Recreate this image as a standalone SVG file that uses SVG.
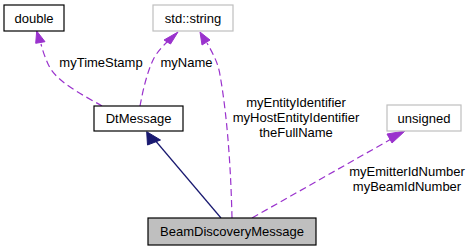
<svg xmlns="http://www.w3.org/2000/svg" width="472" height="251" viewBox="0 0 472 251">
<style>
text{font-family:"Liberation Sans",Arial,sans-serif;font-size:13px;fill:#000;text-anchor:middle}
.box{fill:#fff;stroke:#000;stroke-width:1.2}
.gbox{fill:#fff;stroke:#bfbfbf;stroke-width:1.2}
.cur{fill:#bfbfbf;stroke:#000;stroke-width:1.2}
.dash{fill:none;stroke:#9a32cd;stroke-width:1.2;stroke-dasharray:7,4}
.solid{fill:none;stroke:#191970;stroke-width:1.2}
.ph{fill:#9a32cd;stroke:#9a32cd}
.nh{fill:#191970;stroke:#191970}
</style>
<rect width="472" height="251" fill="#fff"/>
<g id="connectors">
<path class="solid" d="M221,218 L154,139"/>
<polygon class="nh" points="146.7,131.7 147.5,145 160.5,140"/>
<path class="dash" d="M102,106 C85,96 60,84 50,68 C46,60 43,52 41,44"/>
<polygon class="ph" points="36.7,31 35.7,43.3 45,41.7"/>
<path class="dash" d="M140,106 C143,90 147,72 154,58 C158,51 163,46 168,41"/>
<polygon class="ph" points="178,32 164,40 170.5,44"/>
<path class="dash" d="M232,218 C231,175 228,120 220,75 C218,62 212,52 207,43"/>
<polygon class="ph" points="200,32 202,45 210,40"/>
<path class="dash" d="M252,218 L393,138"/>
<polygon class="ph" points="405,131 387,134 392,143"/>
<text x="101" y="67">myTimeStamp</text>
<text x="186.5" y="67">myName</text>
<text x="296" y="107">myEntityIdentifier</text>
<text x="296" y="122">myHostEntityIdentifier</text>
<text x="296" y="137">theFullName</text>
<text x="407" y="176">myEmitterIdNumber</text>
<text x="407" y="191">myBeamIdNumber</text>
</g>
<g id="node-double"><rect class="box" x="4" y="5" width="60" height="26"/><text x="34" y="22.5">double</text></g>
<g id="node-string"><rect class="gbox" x="153" y="5" width="80" height="26"/><text x="193" y="22.5">std::string</text></g>
<g id="node-dtmessage"><rect class="box" x="94" y="106" width="89" height="25"/><text x="138.5" y="123">DtMessage</text></g>
<g id="node-unsigned"><rect class="gbox" x="387" y="105" width="74" height="26"/><text x="424" y="122.5">unsigned</text></g>
<g id="node-beam"><rect class="cur" x="148" y="218" width="168" height="27"/><text x="232" y="235.5">BeamDiscoveryMessage</text></g>
</svg>
